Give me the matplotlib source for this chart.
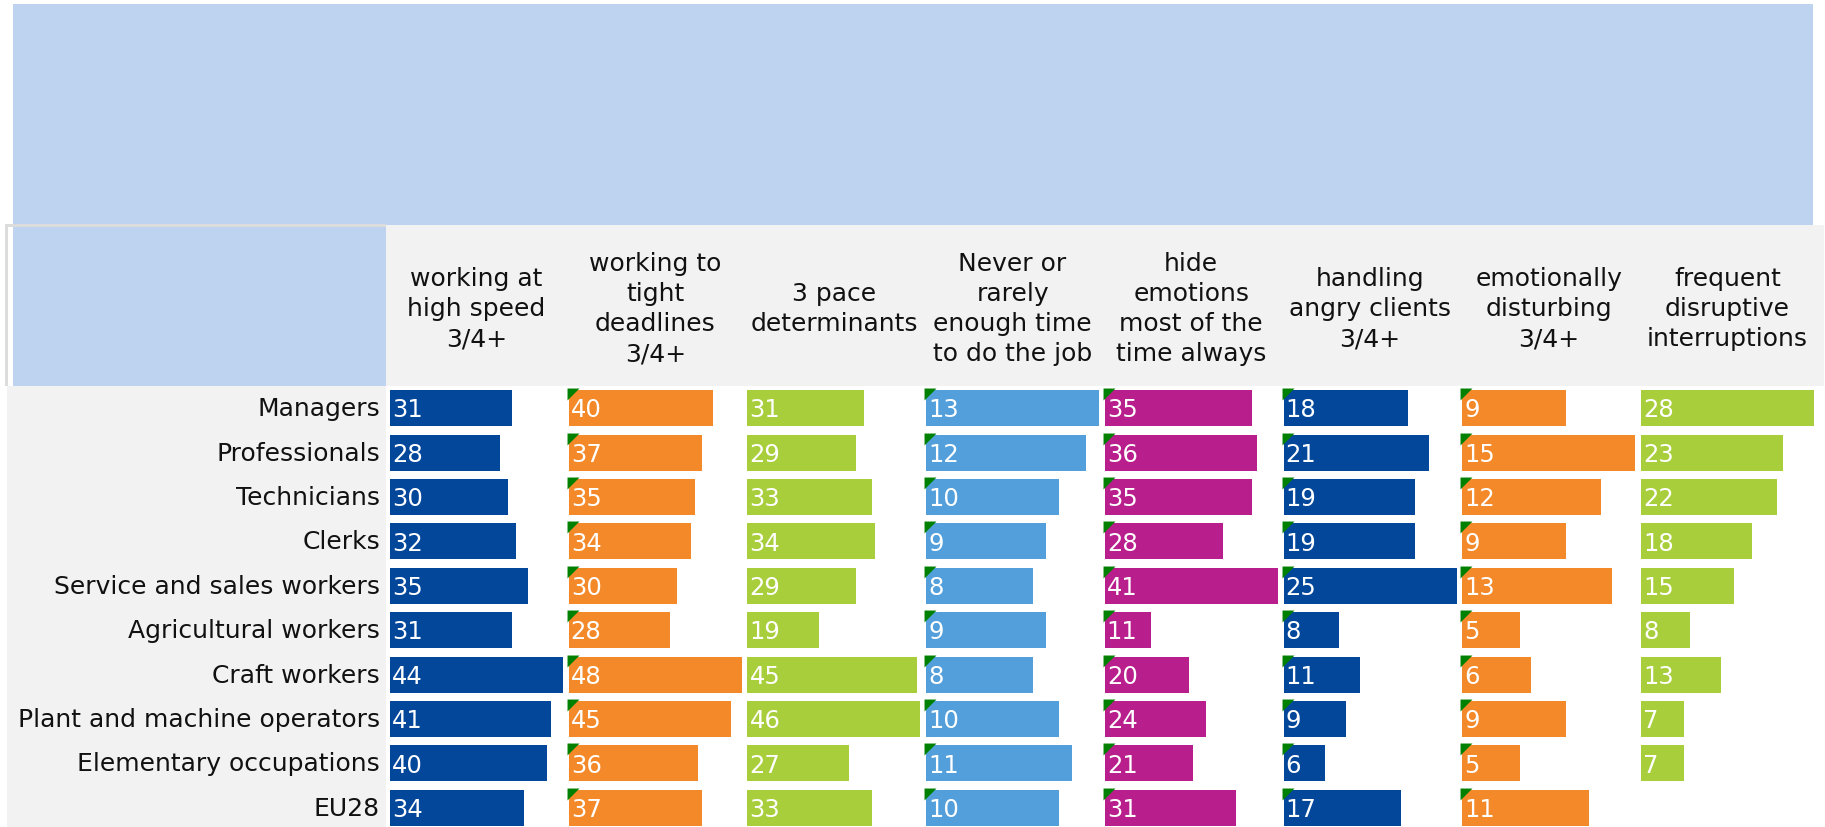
import numpy as np
import matplotlib
matplotlib.use("Agg")
import matplotlib.pyplot as plt
from matplotlib.patches import Rectangle

plt.rcParams['font.family'] = ['DejaVu Sans']

# Données : pourcentages par groupe professionnel
occupations = ['Managers', 'Professionals', 'Technicians', 'Clerks',
               'Service and sales workers', 'Agricultural workers', 'Craft workers',
               'Plant and machine operators', 'Elementary occupations', 'EU28']

headers = ['working at\nhigh speed\n3/4+',
           'working to\ntight\ndeadlines\n3/4+',
           '3 pace\ndeterminants',
           'Never or\nrarely\nenough time\nto do the job',
           'hide\nemotions\nmost of the\ntime always',
           'handling\nangry clients\n3/4+',
           'emotionally\ndisturbing\n3/4+',
           'frequent\ndisruptive\ninterruptions']

high_speed = [31, 28, 30, 32, 35, 31, 44, 41, 40, 34]
tight_deadlines = [40, 37, 35, 34, 30, 28, 48, 45, 36, 37]
pace_determinants = [31, 29, 33, 34, 29, 19, 45, 46, 27, 33]
not_enough_time = [13, 12, 10, 9, 8, 9, 8, 10, 11, 10]
hide_emotions = [35, 36, 35, 28, 41, 11, 20, 24, 21, 31]
angry_clients = [18, 21, 19, 19, 25, 8, 11, 9, 6, 17]
emotionally_disturbing = [9, 15, 12, 9, 13, 5, 6, 9, 5, 11]
interruptions = [28, 23, 22, 18, 15, 8, 13, 7, 7, None]

columns = [high_speed, tight_deadlines, pace_determinants, not_enough_time,
           hide_emotions, angry_clients, emotionally_disturbing, interruptions]

colors = ['#03479b', '#f4892a', '#a8ce3b', '#529fdb',
          '#b81e8c', '#03479b', '#f4892a', '#a8ce3b']
# colonnes avec le petit marqueur vert (commentaire Excel)
flagged = [False, True, False, True, True, True, True, False]

W, H = 1825, 827
fig = plt.figure(figsize=(W / 100, H / 100), dpi=100)

# fond du tableau en coordonnées pixels
bg = fig.add_axes([0, 0, 1, 1])
bg.set_xlim(0, W)
bg.set_ylim(H, 0)
bg.axis('off')

blue_hdr = '#bdd3f0'
grey = '#f2f2f2'
bg.add_patch(Rectangle((13, 4), 1800, 221, color=blue_hdr, lw=0))
bg.add_patch(Rectangle((386, 225), 1438, 161, color=grey, lw=0))
bg.add_patch(Rectangle((13, 225), 373, 161, color=blue_hdr, lw=0))
bg.add_patch(Rectangle((7, 386), 379, 441, color=grey, lw=0))
bg.add_patch(Rectangle((5, 224), 381, 3, color='#dcdcdc', lw=0))
bg.add_patch(Rectangle((5, 224), 3, 162, color='#dcdcdc', lw=0))

col_x0 = 390
col_step = 178.7
bar_w_px = 173
row_top = 386
row_h = 44.4
bar_h_px = 36

for i, name in enumerate(occupations):
    bg.text(380, row_top + row_h * (i + 0.5) + 1, name, ha='right', va='center',
            fontsize=18, color='#111111')

for j, h in enumerate(headers):
    bg.text(col_x0 + col_step * j + bar_w_px / 2, 309, h, ha='center', va='center',
            multialignment='center', fontsize=18, linespacing=1.33, color='#111111')

n = len(occupations)
tri = [(-1, 1), (1, 1), (-1, -1)]
for j, vals in enumerate(columns):
    left = col_x0 + col_step * j
    ax = fig.add_axes([left / W, (H - (row_top + row_h * n)) / H,
                       bar_w_px / W, row_h * n / H])
    ax.axis('off')
    idx = [i for i, v in enumerate(vals) if v is not None]
    v = [vals[i] for i in idx]
    vmax = max(v)
    ax.set_xlim(0, vmax)
    ax.set_ylim(n - 0.5, -0.5)
    bh = bar_h_px / row_h
    ax.barh(idx, v, height=bh, color=colors[j], lw=0)
    px = vmax / bar_w_px
    for i, val in zip(idx, v):
        ax.text(2 * px, i + 0.05, str(val), ha='left', va='center',
                fontsize=17.5, color='white', clip_on=False)
    if flagged[j]:
        ax.plot([4 * px] * len(idx), [i - bh / 2 + 4 / row_h for i in idx],
                ls='none', marker=tri, markersize=8.6, color='#008000',
                markeredgewidth=0, clip_on=False)

fig.savefig('out.png', dpi=100)
